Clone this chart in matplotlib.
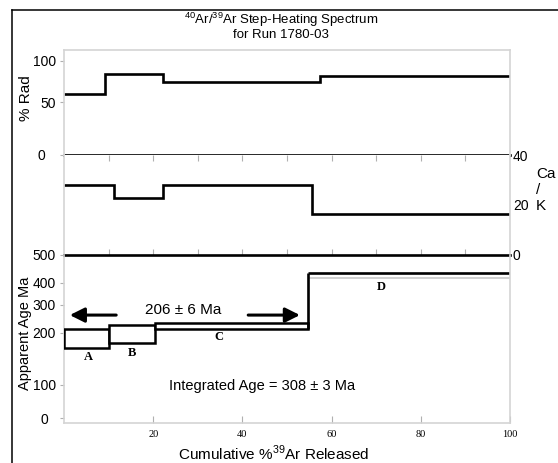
import numpy as np
import matplotlib
matplotlib.use('Agg')
import matplotlib.pyplot as plt
import matplotlib.transforms as mtransforms
from matplotlib.patches import Rectangle
from matplotlib.lines import Line2D

plt.rcParams['font.family'] = ['Liberation Sans', 'DejaVu Sans']
plt.rcParams['mathtext.fontset'] = 'custom'
plt.rcParams['mathtext.rm'] = 'Liberation Sans'

# --- data ---
rad_edges = [0, 9.2, 22.3, 57.4, 100]
rad_values = [59.4, 84.1, 74.0, 81.7]

cak_edges = [0, 11.1, 22.1, 55.5, 100]
cak_values = [27.9, 22.6, 27.9, 16.2]

step_names = ['A', 'B', 'C', 'D']
step_edges = [0, 10.2, 20.4, 54.6, 100]
age_lo = [170.6, 180.2, 213, 419]
age_hi = [213, 228.6, 234.6, 436]

plateau_label = '206 ± 6 Ma'
plateau_from = 1.3
plateau_to = 52.9
integrated_label = 'Integrated Age = 308 ± 3 Ma'

rad_ticks = [0, 50, 100]
cak_ticks = [0, 20, 40]
age_ticks = [0, 100, 200, 300, 400, 500]
x_ticks = [20, 40, 60, 80, 100]

# the hand drawn axes are not evenly spaced; mimic with piecewise scales
rad_knots = ([0, 50, 100, 113.4], [0, 53, 94, 105])
age_knots = ([-15, 0, 100, 200, 300, 400, 500], [0, 5, 38, 90, 118, 140, 168.5])


def piecewise(knots):
    vals, pos = np.array(knots[0], float), np.array(knots[1], float)
    fwd = lambda v: np.interp(v, vals, pos)
    inv = lambda p: np.interp(p, pos, vals)
    return fwd, inv


W, H = 558, 463
fig = plt.figure(figsize=(W / 100, H / 100), dpi=100)


def box(top, bottom, left=64, right=510):
    return [left / W, (H - bottom) / H, (right - left) / W, (bottom - top) / H]


ax1 = fig.add_axes(box(50, 155))
ax2 = fig.add_axes(box(155, 254.5))
ax3 = fig.add_axes(box(254.5, 423))

grey = '#d4d4d4'
tick_grey = '#b0b0b0'
for ax in (ax1, ax2, ax3):
    ax.set_xlim(0, 100)
    for s in ax.spines.values():
        s.set_color(grey)
        s.set_linewidth(1.2)
    ax.tick_params(colors=tick_grey, labelcolor='black', labelsize=10)
ax1.spines['bottom'].set_visible(False)
ax2.spines['top'].set_visible(False)
ax2.spines['bottom'].set_visible(False)
ax3.spines['top'].set_visible(False)

# % Rad panel
ax1.set_yscale('function', functions=piecewise(rad_knots))
ax1.set_ylim(0, 113.4)
ax1.stairs(rad_values, rad_edges, baseline=None, color='black', lw=1.9)
ax1.axhline(0, color='black', lw=1.9, clip_on=False)
ax1.set_yticks(rad_ticks)
ax1.set_yticklabels([str(t) for t in rad_ticks])
ax1.tick_params(axis='y', length=3, width=0.8, pad=3)
ax1.set_xticks([])
ax1.set_ylabel('% Rad', fontsize=11)
ax1.yaxis.set_label_coords((26 - 64) / 446, 0.543)
ax1.yaxis.label.set_va('center')

# Ca/K panel
ax2.set_ylim(0, 40)
ax2.stairs(cak_values, cak_edges, baseline=None, color='black', lw=1.9)
ax2.yaxis.tick_right()
ax2.set_yticks(cak_ticks)
ax2.set_yticklabels([str(t) for t in cak_ticks])
ax2.tick_params(axis='y', length=0, pad=2)
ax2.set_xticks(np.arange(10, 100, 10))
ax2.tick_params(axis='x', top=True, bottom=True, direction='in', length=4,
                width=0.8, labelbottom=False)
fig.text(536 / W, 1 - 190 / H, 'Ca\n/\nK', fontsize=11, ha='left', va='center',
         multialignment='left')

# Age panel
ax3.set_yscale('function', functions=piecewise(age_knots))
ax3.set_ylim(-15, 500)
ax3.axhline(500, color='black', lw=1.9, clip_on=False)
for i in range(3):
    ax3.add_patch(Rectangle((step_edges[i], age_lo[i]),
                            step_edges[i + 1] - step_edges[i],
                            age_hi[i] - age_lo[i],
                            fc='white', ec='black', lw=1.8, zorder=3))
ax3.hlines(age_hi[3], step_edges[3], step_edges[4], color='black', lw=1.9)
ax3.hlines(age_lo[3], step_edges[3], step_edges[4], color='#c8c8c8', lw=1.2)
ax3.vlines(step_edges[3], age_lo[2], age_hi[3], color='black', lw=1.9, zorder=4)

label_x = [5.4, 15.2, 34.8, 71.2]
label_y = [154, 162, 192, 382]
for name, lx, ly in zip(step_names, label_x, label_y):
    ax3.text(lx, ly, name, ha='center', va='center', fontsize=9,
             family='Liberation Serif', fontweight='bold')

arrow_y = 264
ax3.annotate('', xy=(plateau_from, arrow_y), xytext=(11.7, arrow_y),
             arrowprops=dict(arrowstyle='-|>', lw=2.2, color='black',
                             mutation_scale=22, shrinkA=0, shrinkB=0))
ax3.annotate('', xy=(plateau_to, arrow_y), xytext=(41.3, arrow_y),
             arrowprops=dict(arrowstyle='-|>', lw=2.2, color='black',
                             mutation_scale=22, shrinkA=0, shrinkB=0))
ax3.text(26.8, 282, plateau_label, ha='center', va='center', fontsize=11)
ax3.text(44.5, 98, integrated_label, ha='center', va='center', fontsize=10.5)

ax3.set_yticks(age_ticks)
ax3.set_yticklabels([str(t) for t in age_ticks])
ax3.tick_params(axis='y', length=3, width=0.8, pad=3)
ax3.set_xticks(x_ticks)
ax3.set_xticklabels([str(t) for t in x_ticks], family='Liberation Serif', fontsize=7.5)
ax3.tick_params(axis='x', direction='in', length=5, width=0.8, pad=5)
ax3.set_ylabel('Apparent Age Ma', fontsize=10.5)
ax3.yaxis.set_label_coords((25 - 64) / 446, 0.534)
ax3.yaxis.label.set_va('center')
ax3.set_xlabel(r'Cumulative %$^{39}$Ar Released', fontsize=11)
ax3.xaxis.set_label_coords((274 - 64) / 446, (423 - 453) / 168.5)
ax3.xaxis.label.set_va('center')

# the zero labels sit further left in the original
for ax, dx in ((ax1, 10), (ax3, 7)):
    lab = ax.yaxis.get_major_ticks()[0].label1
    lab.set_transform(lab.get_transform() +
                      mtransforms.ScaledTranslation(-dx / 100, 0, fig.dpi_scale_trans))

fig.text(281 / W, 1 - 20 / H, r'$^{40}$Ar/$^{39}$Ar Step-Heating Spectrum',
         ha='center', va='center', fontsize=9.5)
fig.text(281 / W, 1 - 34.5 / H, 'for Run 1780-03', ha='center', va='center',
         fontsize=9.5)

# scan frame
fig.add_artist(Line2D([12 / W, 1], [1 - 10 / H, 1 - 10 / H], color='black', lw=1.1))
fig.add_artist(Line2D([12 / W, 12 / W], [0, 1 - 10 / H], color='black', lw=1.1))

fig.savefig('out.png', dpi=100)
